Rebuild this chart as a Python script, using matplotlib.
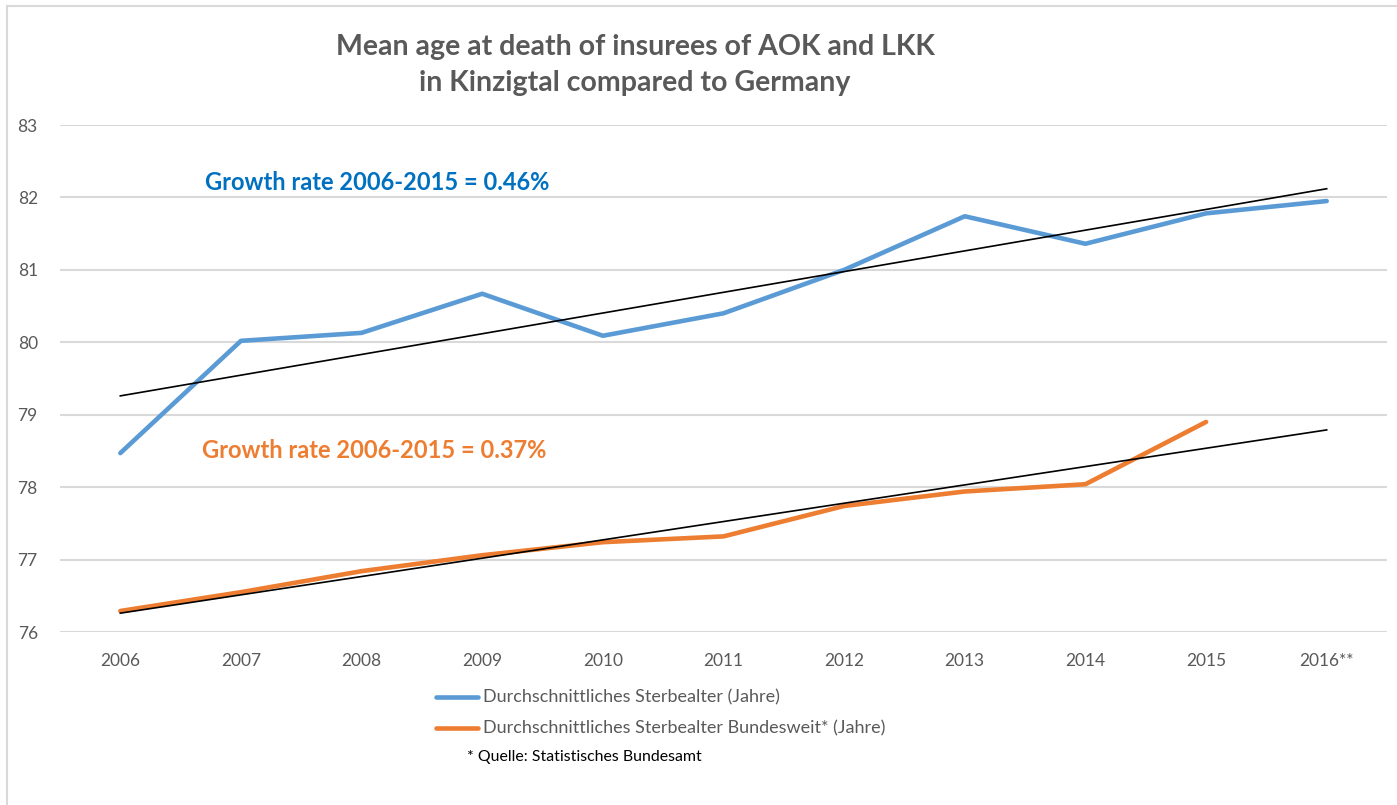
import matplotlib

matplotlib.use("Agg")
import matplotlib.pyplot as plt
from matplotlib.lines import Line2D

# Data
YEARS = ["2006", "2007", "2008", "2009", "2010", "2011",
         "2012", "2013", "2014", "2015", "2016**"]
KINZIGTAL = [78.47, 80.02, 80.13, 80.67, 80.09, 80.40,
             81.00, 81.74, 81.36, 81.78, 81.95]
GERMANY = [76.29, 76.55, 76.84, 77.06, 77.24, 77.32,
           77.74, 77.94, 78.04, 78.90]
# Excel linear trend lines, endpoints at 2006 and 2016**
TREND_KINZIGTAL = [79.26, 82.12]
TREND_GERMANY = [76.26, 78.79]
Y_TICKS = [76, 77, 78, 79, 80, 81, 82, 83]

BLUE = "#5B9BD5"
ORANGE = "#ED7D31"
TEXT_GREY = "#595959"
GRID = "#D9D9D9"

plt.rcParams["font.family"] = ["Lato", "DejaVu Sans"]

W, H = 1397, 805
fig = plt.figure(figsize=(W / 100, H / 100), dpi=100)
ax = fig.add_axes([60 / W, 1 - 632 / H, (1387 - 60) / W, (632 - 125) / H])

x = list(range(len(YEARS)))
ax.plot(x, KINZIGTAL, color=BLUE, lw=3.3, solid_capstyle="round", zorder=3)
ax.plot(x[:len(GERMANY)], GERMANY, color=ORANGE, lw=3.3,
        solid_capstyle="round", zorder=3)
ends = [x[0], x[-1]]
ax.plot(ends, TREND_KINZIGTAL, color="black", lw=1.2, zorder=4)
ax.plot(ends, TREND_GERMANY, color="black", lw=1.2, zorder=4)

ax.set_xlim(-0.5, len(YEARS) - 0.5)
ax.set_ylim(Y_TICKS[0], Y_TICKS[-1])
ax.set_yticks(Y_TICKS)
ax.set_xticks(x)
ax.set_xticklabels(YEARS)
ax.grid(axis="y", color=GRID, lw=1.5)
ax.set_axisbelow(True)
for s in ax.spines.values():
    s.set_visible(False)
ax.tick_params(length=0, labelsize=12.5, colors=TEXT_GREY, pad=15)
ax.tick_params(axis="y", pad=16)

ax.text(0.7, 82.2, "Growth rate 2006-2015 = 0.46%", color="#0070C0",
        fontsize=17, fontweight="bold", va="center", ha="left")
ax.text(0.68, 78.5, "Growth rate 2006-2015 = 0.37%", color=ORANGE,
        fontsize=17, fontweight="bold", va="center", ha="left")

fig.text(635 / W, 1 - 47 / H, "Mean age at death of insurees of AOK and LKK",
         ha="center", va="center", fontsize=20.5, fontweight="bold", color=TEXT_GREY)
fig.text(635 / W, 1 - 83 / H, "in Kinzigtal compared to Germany",
         ha="center", va="center", fontsize=20.5, fontweight="bold", color=TEXT_GREY)

# legend drawn by hand to match Excel's left-aligned stack
for ypix, col, label in [(697, BLUE, "Durchschnittliches Sterbealter (Jahre)"),
                         (728, ORANGE, "Durchschnittliches Sterbealter Bundesweit* (Jahre)")]:
    fig.add_artist(Line2D([436 / W, 478 / W], [1 - ypix / H] * 2, color=col,
                          lw=3.3, solid_capstyle="round"))
    fig.text(483 / W, 1 - ypix / H, label, ha="left", va="center",
             fontsize=13, color=TEXT_GREY)
fig.text(467 / W, 1 - 757 / H, "* Quelle: Statistisches Bundesamt",
         ha="left", va="center", fontsize=11.4, color="black")

# chart border (only left and top edges visible in the crop)
fig.add_artist(Line2D([7 / W, 7 / W], [0, 1 - 6 / H], color=GRID, lw=1.5))
fig.add_artist(Line2D([7 / W, 1], [1 - 6 / H, 1 - 6 / H], color=GRID, lw=1.5))

fig.savefig("out.png", dpi=100)
